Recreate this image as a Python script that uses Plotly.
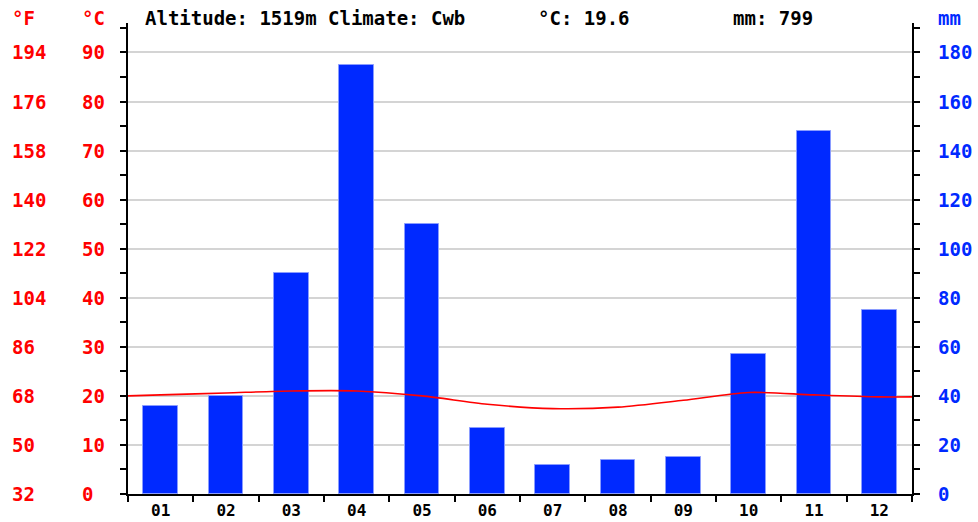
import plotly.graph_objects as go

# ---- data ----
months = ["01", "02", "03", "04", "05", "06", "07", "08", "09", "10", "11", "12"]
precip_mm = [36, 40, 90, 175, 110, 27, 12, 14, 15, 57, 148, 75]
temp_c = [20.2, 20.6, 21.0, 21.0, 20.0, 18.3, 17.4, 17.7, 19.1, 20.7, 20.2, 19.8]
temp_edge_left = 20.0
temp_edge_right = 19.8

c_ticks = [0, 10, 20, 30, 40, 50, 60, 70, 80, 90]
f_ticks = [32, 50, 68, 86, 104, 122, 140, 158, 176, 194]
mm_ticks = [0, 20, 40, 60, 80, 100, 120, 140, 160, 180]

altitude_text = "Altitude: 1519m Climate: Cwb"
mean_temp_text = "°C: 19.6"
total_mm_text = "mm: 799"

# ---- styling ----
RED = "#ff0000"
BLUE = "#0029ff"
FONT = "DejaVu Sans Mono"
FS = 19
W, H = 978, 522
ML, MR, MT, MB = 128, 66, 23, 28
PW = W - ML - MR

def px_to_paper_x(px):
    return (px - ML) / PW

def px_to_paper_y(py):
    return 1 - (py - MT) / (H - MT - MB)

fig = go.Figure()

fig.add_trace(go.Bar(
    x=list(range(len(months))), y=precip_mm, yaxis="y",
    marker=dict(color=BLUE, line=dict(color="#8a9cff", width=1)),
    width=0.535, showlegend=False,
))

line_x = [-0.5] + list(range(len(months))) + [len(months) - 0.5]
line_y = [temp_edge_left] + temp_c + [temp_edge_right]
fig.add_trace(go.Scatter(
    x=line_x, y=line_y, yaxis="y2", mode="lines",
    line=dict(color=RED, width=1.6, shape="spline", smoothing=0.8),
    showlegend=False,
))

annotations = []
tick_font = dict(family=FONT, size=FS, weight="bold")
for c, f in zip(c_ticks, f_ticks):
    annotations.append(dict(x=px_to_paper_x(10), xref="paper", y=c, yref="y2",
                            text=str(f), showarrow=False, xanchor="left", yanchor="middle",
                            font=dict(color=RED, **tick_font)))
    annotations.append(dict(x=px_to_paper_x(80), xref="paper", y=c, yref="y2",
                            text=str(c), showarrow=False, xanchor="left", yanchor="middle",
                            font=dict(color=RED, **tick_font)))
for m in mm_ticks:
    annotations.append(dict(x=px_to_paper_x(936), xref="paper", y=m, yref="y",
                            text=str(m), showarrow=False, xanchor="left", yanchor="middle",
                            font=dict(color=BLUE, **tick_font)))

header_y = px_to_paper_y(18)
for txt, xp, col in [("°F", 10, RED), ("°C", 80, RED), ("mm", 936, BLUE)]:
    annotations.append(dict(x=px_to_paper_x(xp), xref="paper", y=header_y, yref="paper",
                            text=txt, showarrow=False, xanchor="left", yanchor="middle",
                            font=dict(color=col, **tick_font)))
for txt, xp in [(altitude_text, 143), (mean_temp_text, 536), (total_mm_text, 731)]:
    annotations.append(dict(x=px_to_paper_x(xp), xref="paper", y=header_y, yref="paper",
                            text=txt, showarrow=False, xanchor="left", yanchor="middle",
                            font=dict(color="black", **tick_font)))

fig.update_layout(
    width=W, height=H, autosize=False,
    margin=dict(l=ML, r=MR, t=MT, b=MB, pad=0, autoexpand=False),
    paper_bgcolor="white", plot_bgcolor="white",
    bargap=0,
    xaxis=dict(
        range=[-0.5, len(months) - 0.5], tickvals=list(range(len(months))), ticktext=months,
        ticks="", showgrid=False, zeroline=False, automargin=False,
        showline=True, linecolor="black", linewidth=2, ticklabelstandoff=1,
        tickfont=dict(family=FONT, size=16, color="black", weight="bold"),
        minor=dict(tick0=-0.5, dtick=1, ticks="outside", ticklen=6, tickwidth=2,
                   tickcolor="black", showgrid=False),
    ),
    yaxis=dict(
        range=[0, 192], side="right", tickvals=mm_ticks, showticklabels=False,
        ticks="outside", ticklen=6, tickwidth=2, tickcolor="black", automargin=False,
        showgrid=True, gridcolor="#d4d4d4", gridwidth=1.5, zeroline=False,
        showline=True, linecolor="black", linewidth=2,
        minor=dict(dtick=10, ticks="outside", ticklen=6, tickwidth=2, tickcolor="black",
                   showgrid=False),
    ),
    yaxis2=dict(
        range=[0, 96], side="left", overlaying="y", tickvals=c_ticks, showticklabels=False,
        ticks="outside", ticklen=6, tickwidth=2, tickcolor="black", automargin=False,
        showgrid=False, zeroline=False,
        showline=True, linecolor="black", linewidth=2,
        minor=dict(dtick=5, ticks="outside", ticklen=6, tickwidth=2, tickcolor="black",
                   showgrid=False),
    ),
    annotations=annotations,
)

fig.write_html(
    "out.html",
    config={"displayModeBar": False},
    post_script="document.body.style.margin='0';document.body.style.overflow='hidden';",
)
